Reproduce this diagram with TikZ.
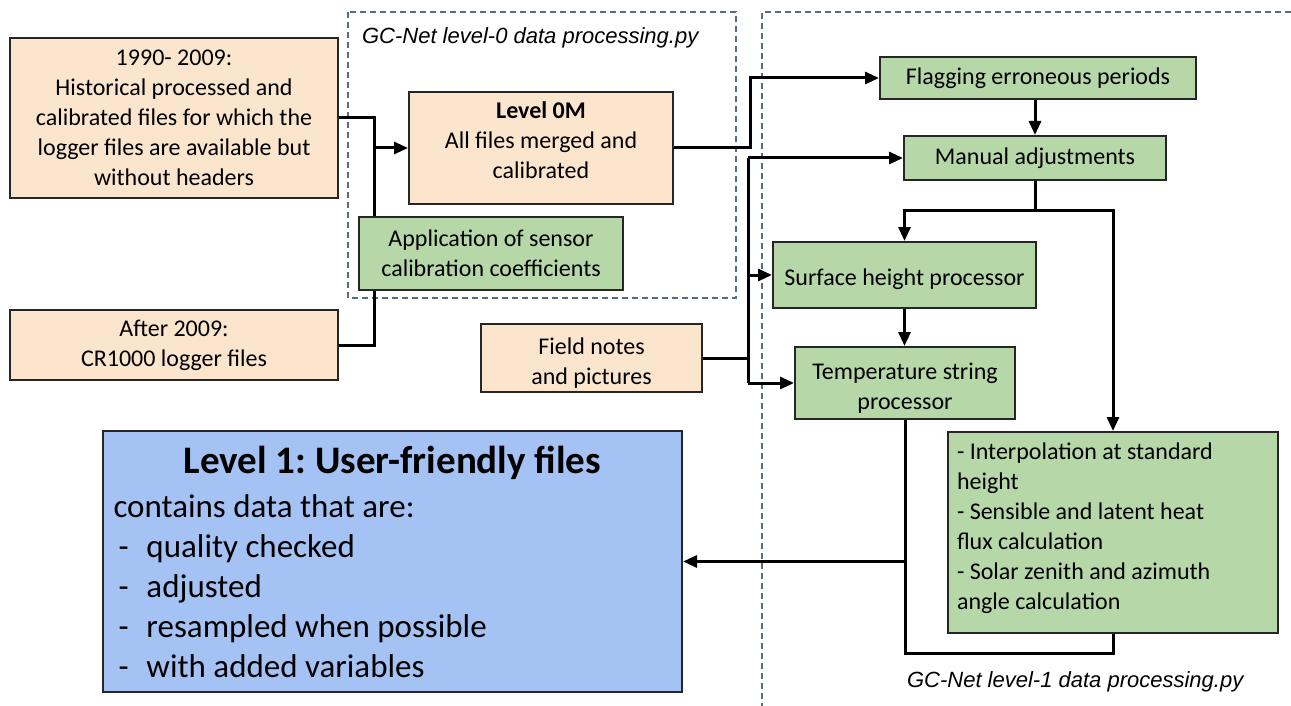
\documentclass[tikz,border=0pt]{standalone}
\usepackage{fontspec}
\setmainfont{Carlito}
\newfontfamily\labelfont{Liberation Sans}
\usetikzlibrary{arrows.meta}
\definecolor{peach}{HTML}{FCE5CD}
\definecolor{leaf}{HTML}{B6D7A8}
\definecolor{sky}{HTML}{A4C2F4}
\definecolor{slate}{HTML}{5B6B80}
\newcommand\plainspace{\spaceskip=0pt\relax\xspaceskip=0pt\relax\frenchspacing}

\begin{document}
\begin{tikzpicture}[x=0.5pt, y=-0.5pt,
    box/.style={draw=black!85, line width=1pt, align=center, inner sep=2pt,
        font=\fontsize{12}{15}\selectfont},
    peachbox/.style={box, fill=peach},
    greenbox/.style={box, fill=leaf},
    link/.style={line width=1.5pt},
    arrow/.style={link, -{Triangle[length=7pt, width=6pt]}},
    frame/.style={slate, line width=0.6pt, dash pattern=on 3pt off 2pt},
    script/.style={font=\labelfont\itshape\fontsize{11}{13}\selectfont, anchor=west}]
    \useasboundingbox (0,0) rectangle (1291,706);

    % script frames
    \draw[frame] (348,12) rectangle (736,298);
    \draw[frame] (1291,12) -- (762,12) -- (762,706);
    \node[script] (lab0) at (355,38) {GC-Net level-0 data processing.py};
    \node[script] (lab1) at (900,682) {GC-Net level-1 data processing.py};

    % level 0
    \node[peachbox, minimum width=164pt, minimum height=80pt] (hist) at (174,118)
        {1990- 2009:\\Historical processed and\\calibrated files for which the\\logger files are available but\\without headers};
    \node[peachbox, minimum width=164pt, minimum height=35pt] (after) at (174,345)
        {After 2009:\\CR1000 logger files};
    \node[peachbox, minimum width=132pt, minimum height=56pt] (lvl0) at (541,148)
        {\textbf{Level 0M}\\All files merged and\\calibrated\rule[-8pt]{0pt}{8pt}};
    \node[greenbox, minimum width=132pt, minimum height=36.5pt] (appl) at (491,253.5)
        {Application of sensor\\calibration coefficients};
    \node[peachbox, minimum width=110.5pt, minimum height=32pt] (field) at (591.5,358)
        {\rule{0pt}{13pt}Field notes\\and pictures};

    % level 1
    \node[greenbox, minimum width=158pt, minimum height=21pt] (flag) at (1038,78)
        {Flagging erroneous periods};
    \node[greenbox, minimum width=131pt, minimum height=22pt] (man) at (1035,158)
        {Manual adjustments};
    \node[greenbox, minimum width=131.5pt, minimum height=33pt] (surf) at (904.5,275)
        {\rule{0pt}{13pt}Surface height processor};
    \node[greenbox, minimum width=110pt, minimum height=36pt] (temp) at (905,383)
        {\rule{0pt}{13pt}Temperature string\\processor};
    \node[greenbox, minimum width=165pt, minimum height=100.5pt, align=left,
        text width=156pt] (interp) at (1113,532.5)
        {\plainspace - Interpolation at standard\\height\\- Sensible and latent heat\\flux calculation\\- Solar zenith and azimuth\\angle calculation\rule[-6pt]{0pt}{6pt}};
    \node[box, fill=sky, minimum width=289.5pt, minimum height=130.5pt, align=left,
        inner xsep=5pt, text width=279pt, font=\fontsize{16.5}{20}\selectfont] (lvl1) at (392.5,561.5)
        {\plainspace\makebox[279pt][c]{\fontsize{19.5}{24}\selectfont\bfseries Level 1: User-friendly files}\\[2pt]
        contains data that are:\\
        \hspace*{2.5pt}\makebox[14pt][l]{-}quality checked\\
        \hspace*{2.5pt}\makebox[14pt][l]{-}adjusted\\
        \hspace*{2.5pt}\makebox[14pt][l]{-}resampled when possible\\
        \hspace*{2.5pt}\makebox[14pt][l]{-}with added variables};

    % connectors
    \coordinate (jl) at (374,0);
    \coordinate (jm) at (750,0);
    \coordinate (jf) at (748,0);
    \coordinate (jy) at (0,210);
    \coordinate (jb) at (0,653);
    \draw[link] (hist.east) -| (jl |- appl.north);
    \draw[link] (after.east) -| (jl |- appl.south);
    \draw[arrow] (jl |- lvl0.west) -- (lvl0.west);
    \draw[arrow] (lvl0.east) -| (jm |- flag.west) -- (flag.west);
    \draw[link] (field.east) -- (field.east -| jf);
    \draw[link] (jf |- man.west) -- (jf |- temp.west);
    \draw[arrow] (jf |- man.west) -- (man.west);
    \draw[arrow] (jf |- surf.west) -- (surf.west);
    \draw[arrow] (jf |- temp.west) -- (temp.west);
    \draw[arrow] (man.north |- flag.south) -- (man.north);
    \draw[link] (man.south) -- (man.south |- jy);
    \draw[arrow] (man.south |- jy) -| (surf.north);
    \draw[arrow] (man.south |- jy) -| (interp.north);
    \draw[arrow] (surf.south) -- (surf.south |- temp.north);
    \draw[link] (temp.south) -- (temp.south |- jb) -| (interp.south);
    \draw[arrow] (temp.south |- lvl1.east) -- (lvl1.east);
\end{tikzpicture}
\end{document}
